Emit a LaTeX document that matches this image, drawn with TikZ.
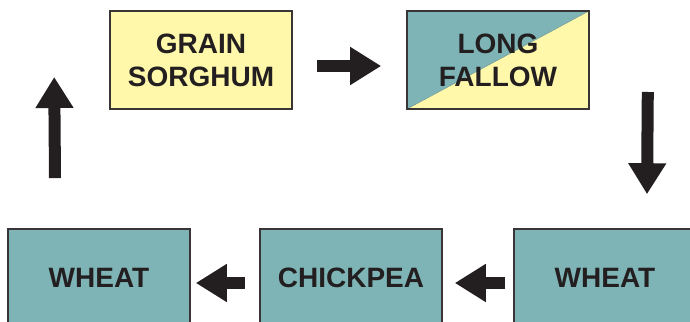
\documentclass[tikz,border=0pt]{standalone}
\usepackage{fontspec}
\usetikzlibrary{arrows.meta}
\newfontfamily\cropfont{Liberation Sans}
\definecolor{cropteal}{RGB}{126,180,182}
\definecolor{cropyellow}{RGB}{255,248,170}
\definecolor{cropink}{RGB}{35,31,32}

\begin{document}
\begin{tikzpicture}[%
      x=1pt, y=1pt,
      crop/.style={draw=cropink!90, line width=1.6pt, minimum width=182pt, minimum height=98pt,
        inner sep=0pt, align=center, text=cropink,
        font=\cropfont\bfseries\fontsize{28}{33}\selectfont},
      blockarrow/.style={draw=cropink, line width=12pt, -{Triangle[length=31pt,width=36pt]}},
      ]
      \useasboundingbox (0,0) rectangle (690,321);
      \clip (0,0) rectangle (690,321);

      \node [crop, fill=cropyellow] (gs) at (201,261) {GRAIN\\SORGHUM};
      \node [crop, fill=cropteal, path picture={
          \fill [cropyellow] (path picture bounding box.south west)
            -- (path picture bounding box.south east)
            -- (path picture bounding box.north east) -- cycle;
          \draw [cropteal!80!black, line width=0.4pt] (path picture bounding box.south west)
            -- (path picture bounding box.north east);}] (lf) at (498,261) {LONG\\FALLOW};

      \node [crop, fill=cropteal] (w1) at (99,43) {WHEAT};
      \node [crop, fill=cropteal] (cp) at (351,43) {CHICKPEA};
      \node [crop, fill=cropteal] (w2) at (605,43) {WHEAT};

      \draw [blockarrow] ([xshift=24pt,yshift=-6pt]gs.east) -- ([xshift=-25pt,yshift=-6pt]lf.west);
      \draw [blockarrow] ([xshift=58pt,yshift=-32pt]lf.east) -- ([xshift=42pt,yshift=34pt]w2.north);
      \draw [blockarrow] ([xshift=-8pt,yshift=-5pt]w2.west) -- ([xshift=12pt,yshift=-5pt]cp.east);
      \draw [blockarrow] ([xshift=-14pt,yshift=-5pt]cp.west) -- ([xshift=5pt,yshift=-5pt]w1.east);
      \draw [blockarrow] ([xshift=-44pt,yshift=50pt]w1.north) -- ([xshift=-55pt,yshift=-17pt]gs.west);
      \end{tikzpicture}
\end{document}
